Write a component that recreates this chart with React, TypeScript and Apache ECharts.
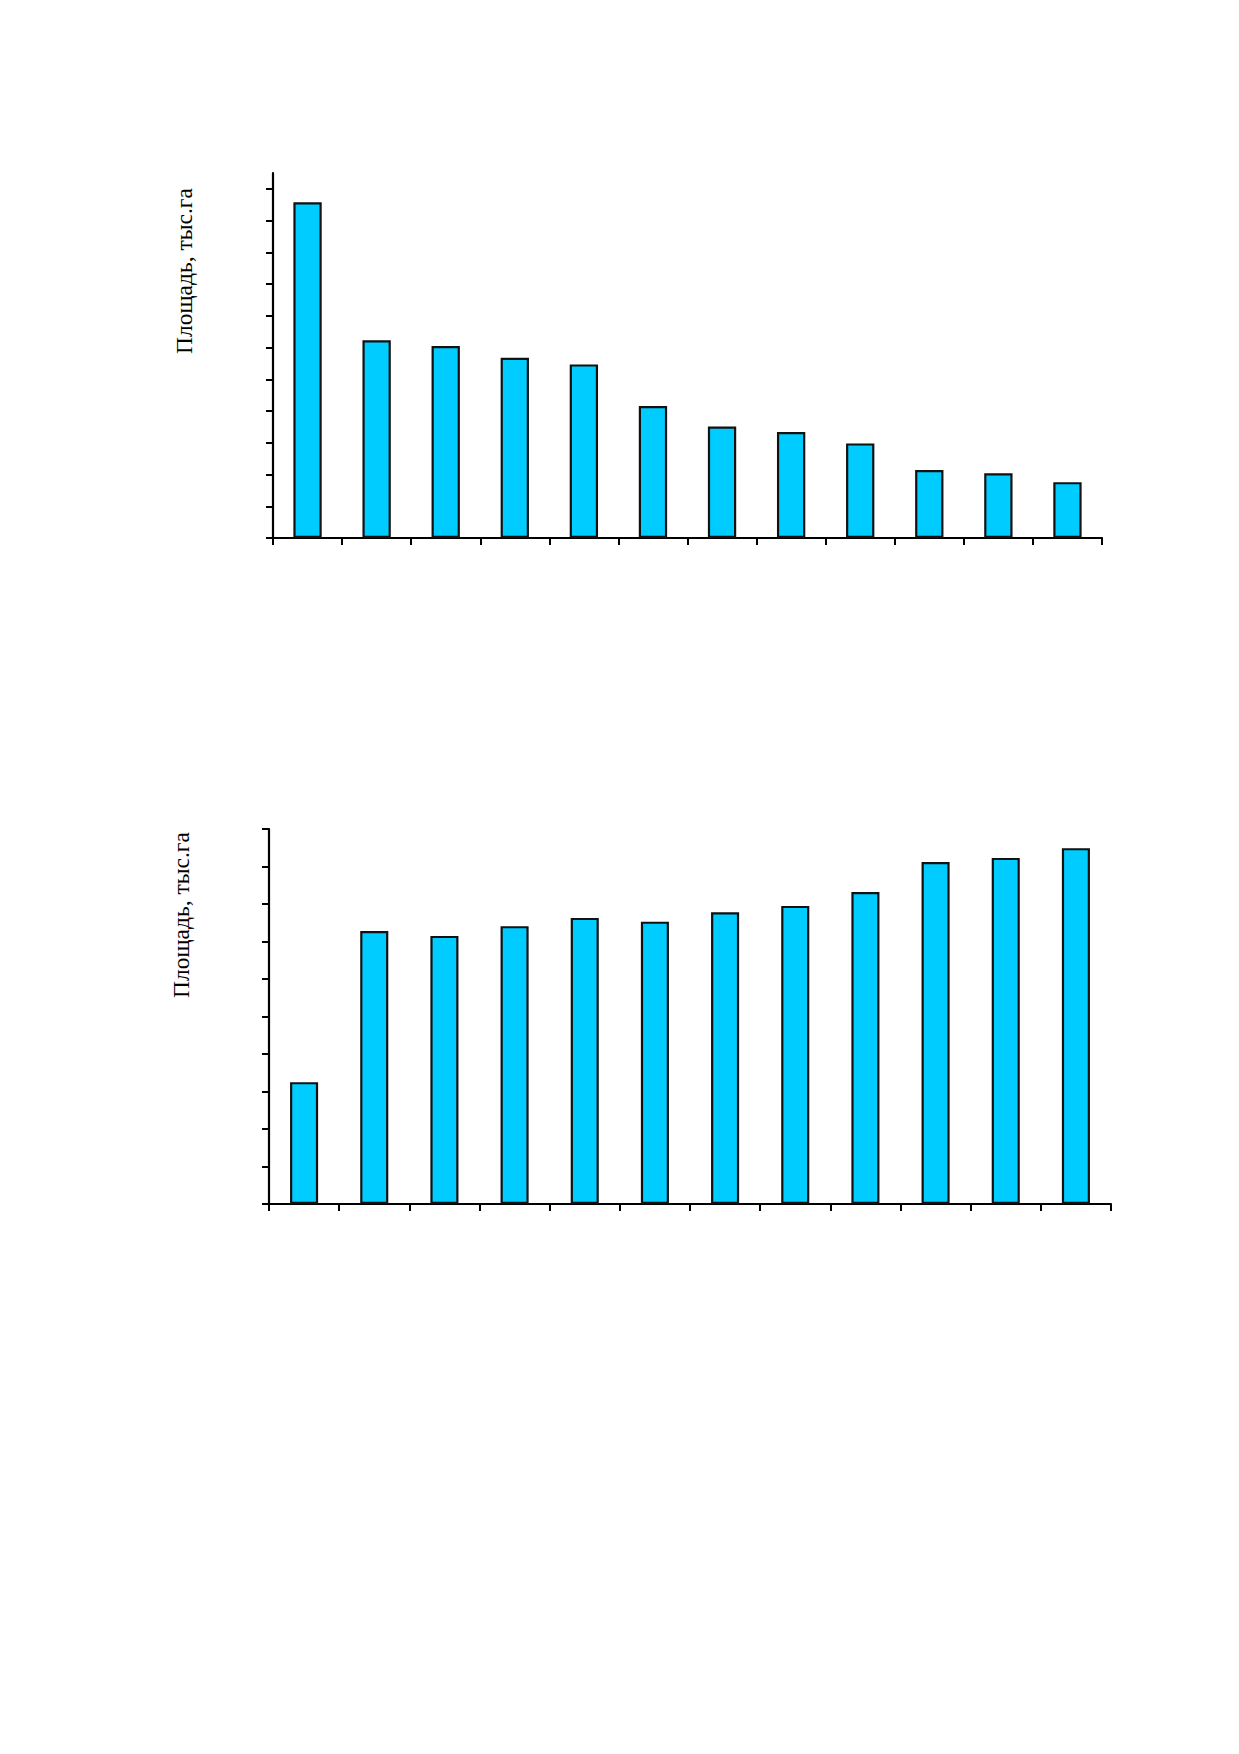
import React, { useEffect, useRef } from "react";
import * as echarts from "echarts";

const categories = ["1", "2", "3", "4", "5", "6", "7", "8", "9", "10", "11", "12"];
const topValues = [10.58, 6.23, 6.05, 5.68, 5.47, 4.16, 3.51, 3.34, 2.98, 2.14, 2.04, 1.76];
const bottomValues = [3.25, 7.28, 7.15, 7.41, 7.63, 7.53, 7.78, 7.95, 8.32, 9.12, 9.23, 9.49];
const topTicks = [0, 1, 2, 3, 4, 5, 6, 7, 8, 9, 10, 11];
const bottomTicks = [0, 1, 2, 3, 4, 5, 6, 7, 8, 9, 10];
const yTitle = "Площадь, тыс.га";

export default function App() {
  const ref = useRef<HTMLDivElement>(null);
  useEffect(() => {
    document.body.style.margin = "0";
    if (!ref.current) return;
    const chart = echarts.init(ref.current, null, { renderer: "svg" });
    const axisLine = { show: true, lineStyle: { color: "#000", width: 2.2 } };
    const xAxisBase = {
      type: "category" as const,
      data: categories,
      boundaryGap: true,
      axisLine,
      axisTick: { show: true, length: 7, lineStyle: { color: "#000", width: 2 } },
      axisLabel: { show: false },
      splitLine: { show: false },
    };
    const barStyle = { color: "#00CCFF", borderColor: "#111", borderWidth: 2.2 };
    chart.setOption({
      animation: false,
      backgroundColor: "#fff",
      grid: [
        { left: 273, top: 173, width: 829, height: 365 },
        { left: 269, top: 829, width: 842, height: 375 },
      ],
      xAxis: [
        { ...xAxisBase, gridIndex: 0 },
        { ...xAxisBase, gridIndex: 1 },
      ],
      yAxis: [
        {
          type: "value",
          gridIndex: 0,
          min: 0,
          max: 11.5,
          interval: 1,
          axisLine,
          axisTick: { show: true, length: 7, customValues: topTicks, lineStyle: { color: "#000", width: 2 } },
          axisLabel: { show: false },
          splitLine: { show: false },
        },
        {
          type: "value",
          gridIndex: 1,
          min: 0,
          max: 10,
          interval: 1,
          axisLine,
          axisTick: { show: true, length: 7, customValues: bottomTicks, lineStyle: { color: "#000", width: 2 } },
          axisLabel: { show: false },
          splitLine: { show: false },
        },
      ],
      series: [
        {
          type: "bar",
          xAxisIndex: 0,
          yAxisIndex: 0,
          data: topValues,
          barWidth: "41%",
          itemStyle: barStyle,
        },
        {
          type: "bar",
          xAxisIndex: 1,
          yAxisIndex: 1,
          data: bottomValues,
          barWidth: "40%",
          itemStyle: barStyle,
        },
      ],
      graphic: [
        {
          type: "text",
          x: 184,
          y: 271,
          rotation: Math.PI / 2,
          style: {
            text: yTitle,
            fontFamily: "Liberation Serif",
            fontSize: 23.5,
            fill: "#000",
            align: "center",
            verticalAlign: "middle",
          },
        },
        {
          type: "text",
          x: 181,
          y: 915,
          rotation: Math.PI / 2,
          style: {
            text: yTitle,
            fontFamily: "Liberation Serif",
            fontSize: 23.5,
            fill: "#000",
            align: "center",
            verticalAlign: "middle",
          },
        },
      ],
    });
    return () => chart.dispose();
  }, []);
  return <div ref={ref} style={{ width: 1239, height: 1754, background: "#fff" }} />;
}
